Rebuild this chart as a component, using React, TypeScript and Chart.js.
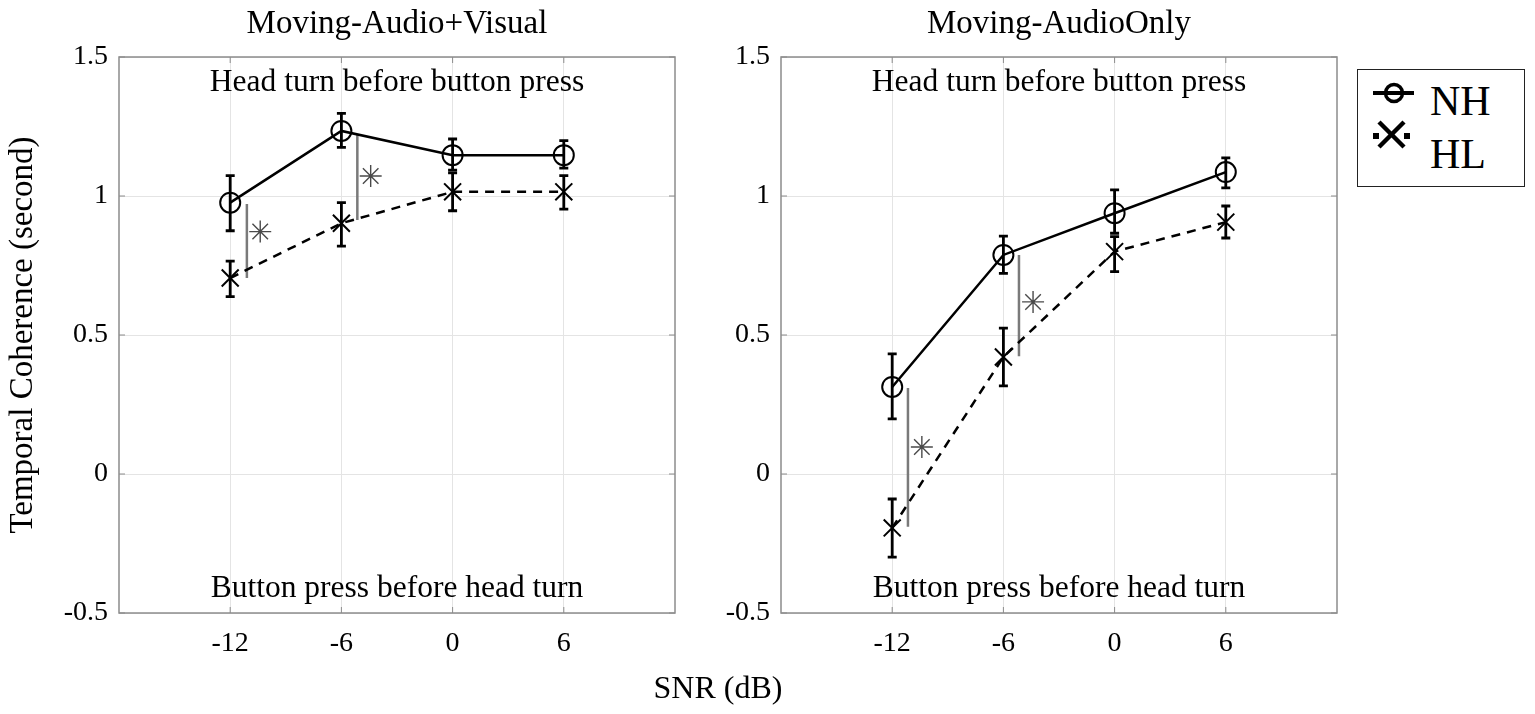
import React, { useEffect, useRef } from 'react';
import { Chart, registerables } from 'chart.js';
Chart.register(...registerables);

Chart.defaults.font.family = "'Liberation Serif', 'Times New Roman', serif";
Chart.defaults.color = '#000';

// ---------- data ----------
const SNR = [-12, -6, 0, 6];
const X_TICKS = [-12, -6, 0, 6];
const Y_TICKS = [-0.5, 0, 0.5, 1, 1.5];

// Panel 1: Moving-Audio+Visual
const AV_NH_MEAN = [0.976, 1.234, 1.147, 1.147];
const AV_NH_LO = [0.875, 1.175, 1.093, 1.1];
const AV_NH_HI = [1.073, 1.297, 1.205, 1.199];
const AV_HL_MEAN = [0.705, 0.902, 1.015, 1.015];
const AV_HL_LO = [0.638, 0.82, 0.947, 0.953];
const AV_HL_HI = [0.766, 0.976, 1.083, 1.073];
const AV_SIG_X = [-11.1, -5.14];
const AV_SIG_TOP = [0.971, 1.223];
const AV_SIG_BOT = [0.705, 0.914];
const AV_STAR_X = [-10.38, -4.42];
const AV_STAR_Y = [0.872, 1.072];

// Panel 2: Moving-AudioOnly
const AO_NH_MEAN = [0.313, 0.788, 0.938, 1.086];
const AO_NH_LO = [0.198, 0.722, 0.866, 1.029];
const AO_NH_HI = [0.432, 0.856, 1.022, 1.137];
const AO_HL_MEAN = [-0.194, 0.421, 0.8, 0.906];
const AO_HL_LO = [-0.299, 0.317, 0.728, 0.849];
const AO_HL_HI = [-0.09, 0.525, 0.854, 0.964];
const AO_SIG_X = [-11.15, -5.16];
const AO_SIG_TOP = [0.309, 0.788];
const AO_SIG_BOT = [-0.19, 0.424];
const AO_STAR_X = [-10.4, -4.4];
const AO_STAR_Y = [0.097, 0.619];

const TITLES = ['Moving-Audio+Visual', 'Moving-AudioOnly'];
const NOTE_TOP = 'Head turn before button press';
const NOTE_BOTTOM = 'Button press before head turn';
const Y_TITLE = 'Temporal Coherence (second)';
const X_TITLE = 'SNR (dB)';
const LEGEND = ['NH', 'HL'];

const SERIF = "'Liberation Serif', 'Times New Roman', serif";

// ---------- plugins ----------
const framePlugin = {
  id: 'frame',
  afterDraw(chart: any) {
    const { ctx, chartArea: a, scales } = chart;
    ctx.save();
    ctx.strokeStyle = '#8c8c8c';
    ctx.lineWidth = 1.5;
    ctx.strokeRect(a.left, a.top, a.right - a.left, a.bottom - a.top);
    ctx.lineWidth = 1;
    const t = 6;
    ctx.beginPath();
    X_TICKS.forEach((v) => {
      const px = scales.x.getPixelForValue(v);
      ctx.moveTo(px, a.bottom); ctx.lineTo(px, a.bottom - t);
      ctx.moveTo(px, a.top); ctx.lineTo(px, a.top + t);
    });
    Y_TICKS.forEach((v) => {
      const py = scales.y.getPixelForValue(v);
      ctx.moveTo(a.left, py); ctx.lineTo(a.left + t, py);
      ctx.moveTo(a.right, py); ctx.lineTo(a.right - t, py);
    });
    ctx.stroke();
    ctx.restore();
  },
};

const notesPlugin = {
  id: 'notes',
  afterDraw(chart: any, _args: any, opts: any) {
    const { ctx, chartArea: a } = chart;
    ctx.save();
    ctx.fillStyle = '#000';
    ctx.textAlign = 'center';
    ctx.textBaseline = 'alphabetic';
    const cx = (a.left + a.right) / 2;
    ctx.font = `33px ${SERIF}`;
    ctx.fillText(opts.title, cx, a.top - 24);
    ctx.font = `31.5px ${SERIF}`;
    ctx.fillText(opts.top, cx, a.top + 34);
    ctx.fillText(opts.bottom, cx, a.bottom - 16);
    ctx.restore();
  },
};

const errPlugin = {
  id: 'errbars',
  afterDatasetsDraw(chart: any, _args: any, opts: any) {
    const { ctx, scales } = chart;
    ctx.save();
    ctx.strokeStyle = '#000';
    ctx.lineWidth = 2.8;
    ctx.lineCap = 'butt';
    const cap = 4.5;
    opts.groups.forEach((g: any) => {
      g.x.forEach((xv: number, i: number) => {
        const px = scales.x.getPixelForValue(xv);
        const pLo = scales.y.getPixelForValue(g.lo[i]);
        const pHi = scales.y.getPixelForValue(g.hi[i]);
        ctx.beginPath();
        ctx.moveTo(px, pLo); ctx.lineTo(px, pHi);
        ctx.moveTo(px - cap, pLo); ctx.lineTo(px + cap, pLo);
        ctx.moveTo(px - cap, pHi); ctx.lineTo(px + cap, pHi);
        ctx.stroke();
      });
    });
    ctx.restore();
  },
};

// ---------- config builder ----------
function makeConfig(p: any) {
  const sigSets = p.sigX.map((xv: number, i: number) => ({
    data: [{ x: xv, y: p.sigTop[i] }, { x: xv, y: p.sigBot[i] }],
    showLine: true,
    borderColor: '#7a7a7a',
    borderWidth: 2.5,
    pointRadius: 0,
  }));
  return {
    type: 'scatter',
    data: {
      datasets: [
        {
          label: 'NH',
          data: SNR.map((x, i) => ({ x, y: p.nhMean[i] })),
          showLine: true,
          borderColor: '#000',
          borderWidth: 2.5,
          pointStyle: 'circle',
          pointRadius: 10,
          pointBorderWidth: 2,
          pointBorderColor: '#000',
          pointBackgroundColor: 'rgba(0,0,0,0)',
        },
        {
          label: 'HL',
          data: SNR.map((x, i) => ({ x, y: p.hlMean[i] })),
          showLine: true,
          borderColor: '#000',
          borderWidth: 2.5,
          borderDash: [9, 7],
          pointStyle: 'crossRot',
          pointRadius: 12,
          pointBorderWidth: 2,
          pointBorderColor: '#000',
        },
        ...sigSets,
        {
          data: p.starX.map((x: number, i: number) => ({ x, y: p.starY[i] })),
          showLine: false,
          pointStyle: 'star',
          pointRadius: 11,
          pointBorderWidth: 1.4,
          pointBorderColor: '#4a4a4a',
        },
      ],
    },
    options: {
      responsive: false,
      maintainAspectRatio: false,
      animation: false,
      events: [],
      layout: { padding: { left: 0, right: p.padRight, top: 57, bottom: 0 } },
      plugins: {
        legend: { display: false },
        tooltip: { enabled: false },
        title: { display: false },
        notes: { title: p.title, top: NOTE_TOP, bottom: NOTE_BOTTOM },
        errbars: {
          groups: [
            { x: SNR, lo: p.nhLo, hi: p.nhHi },
            { x: SNR, lo: p.hlLo, hi: p.hlHi },
          ],
        },
      },
      scales: {
        x: {
          type: 'linear',
          min: -18,
          max: 12,
          afterBuildTicks: (s: any) => { s.ticks = X_TICKS.map((v) => ({ value: v })); },
          afterFit: (s: any) => { s.height = 101; },
          ticks: { font: { size: 28 }, color: '#000', padding: 14, callback: (v: any) => String(v) },
          grid: { color: '#e4e4e4', lineWidth: 1, drawTicks: false },
          border: { display: false },
        },
        y: {
          type: 'linear',
          min: -0.5,
          max: 1.5,
          afterBuildTicks: (s: any) => { s.ticks = Y_TICKS.map((v) => ({ value: v })); },
          afterFit: (s: any) => { s.width = p.yWidth; },
          ticks: { font: { size: 28 }, color: '#000', padding: 11, callback: (v: any) => String(v) },
          grid: { color: '#e4e4e4', lineWidth: 1, drawTicks: false },
          border: { display: false },
          title: {
            display: p.showYTitle,
            text: Y_TITLE,
            font: { size: 33 },
            color: '#000',
            padding: { top: 4, bottom: 0 },
          },
        },
      },
    },
    plugins: [framePlugin, notesPlugin, errPlugin],
  };
}

function ChartCanvas({ params, left, width }: any) {
  const ref = useRef<HTMLCanvasElement>(null);
  useEffect(() => {
    const chart = new Chart(ref.current as HTMLCanvasElement, makeConfig(params) as any);
    return () => chart.destroy();
  }, []);
  return (
    <canvas
      ref={ref}
      width={width}
      height={714}
      style={{ position: 'absolute', left, top: 0, width, height: 714 }}
    />
  );
}

const PANEL_AV = {
  title: TITLES[0],
  nhMean: AV_NH_MEAN, nhLo: AV_NH_LO, nhHi: AV_NH_HI,
  hlMean: AV_HL_MEAN, hlLo: AV_HL_LO, hlHi: AV_HL_HI,
  sigX: AV_SIG_X, sigTop: AV_SIG_TOP, sigBot: AV_SIG_BOT,
  starX: AV_STAR_X, starY: AV_STAR_Y,
  yWidth: 119, showYTitle: true, padRight: 25,
};
const PANEL_AO = {
  title: TITLES[1],
  nhMean: AO_NH_MEAN, nhLo: AO_NH_LO, nhHi: AO_NH_HI,
  hlMean: AO_HL_MEAN, hlLo: AO_HL_LO, hlHi: AO_HL_HI,
  sigX: AO_SIG_X, sigTop: AO_SIG_TOP, sigBot: AO_SIG_BOT,
  starX: AO_STAR_X, starY: AO_STAR_Y,
  yWidth: 81, showYTitle: false, padRight: 23,
};

export default function App() {
  useEffect(() => {
    document.body.style.margin = '0';
  }, []);
  return (
    <div style={{ position: 'relative', width: 1535, height: 714, background: '#fff', overflow: 'hidden' }}>
      <ChartCanvas params={PANEL_AV} left={0} width={700} />
      <ChartCanvas params={PANEL_AO} left={700} width={660} />
      <div
        style={{
          position: 'absolute', left: 618, top: 671, width: 200, textAlign: 'center',
          fontFamily: SERIF, fontSize: 32, lineHeight: '32px', color: '#000',
        }}
      >
        {X_TITLE}
      </div>
      <div
        style={{
          position: 'absolute', left: 1357, top: 69, width: 168, height: 118,
          boxSizing: 'border-box', border: '1.5px solid #222', background: '#fff',
        }}
      >
        <svg width={165} height={115} style={{ position: 'absolute', left: 0, top: 0 }}>
          <line x1={15} y1={23} x2={56} y2={23} stroke="#000" strokeWidth={4} />
          <circle cx={36} cy={23} r={8.5} stroke="#000" strokeWidth={3.5} fill="none" />
          <line x1={21} y1={52} x2={46} y2={77} stroke="#000" strokeWidth={4.5} />
          <line x1={46} y1={52} x2={21} y2={77} stroke="#000" strokeWidth={4.5} />
          <rect x={15} y={63} width={6} height={6} fill="#000" />
          <rect x={46} y={63} width={6} height={6} fill="#000" />
        </svg>
        <div style={{ position: 'absolute', left: 72, top: 10, fontFamily: SERIF, fontSize: 42, lineHeight: '42px', color: '#000' }}>
          {LEGEND[0]}
        </div>
        <div style={{ position: 'absolute', left: 72, top: 63, fontFamily: SERIF, fontSize: 42, lineHeight: '42px', color: '#000' }}>
          {LEGEND[1]}
        </div>
      </div>
    </div>
  );
}
